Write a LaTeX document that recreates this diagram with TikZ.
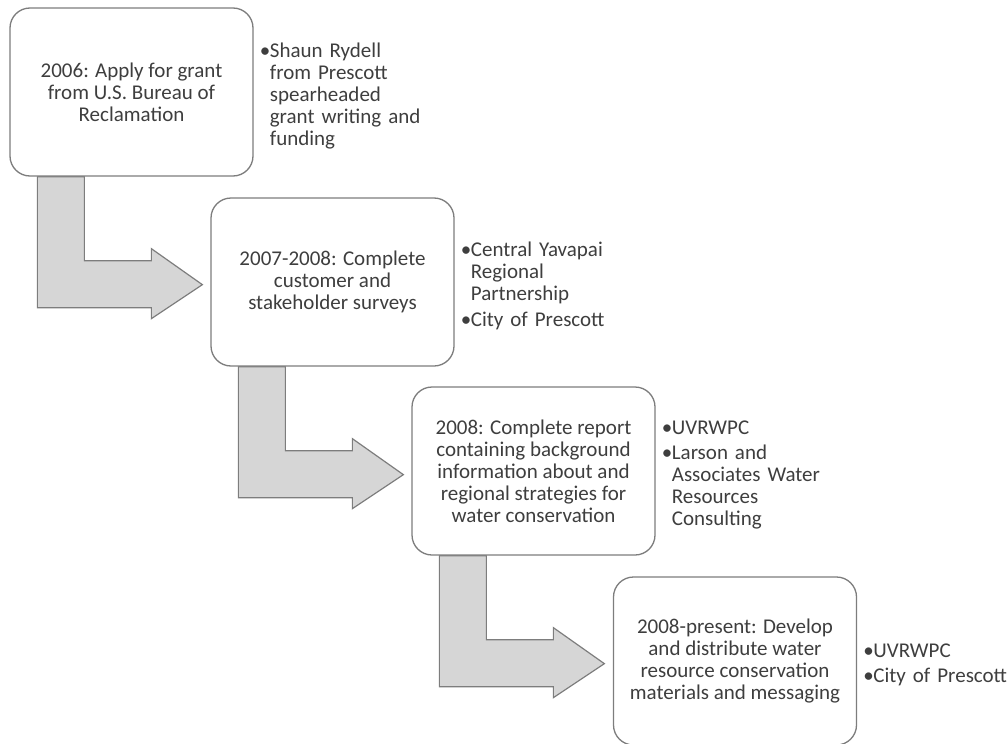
\documentclass[tikz,border=0pt]{standalone}
\usepackage{fontspec}
\setmainfont{Carlito}
\usetikzlibrary{calc,positioning,backgrounds}
\definecolor{boxline}{RGB}{125,125,125}
\definecolor{arrowfill}{RGB}{214,214,214}
\definecolor{txtgray}{RGB}{62,62,62}
\newcommand{\itm}[1]{\par\noindent\makebox[12pt][l]{\hspace{2pt}\textbullet}%
  \begin{tabular}[t]{@{}l@{}}#1\end{tabular}}
\tikzset{
  stage/.style={draw=boxline, line width=1.3pt, rounded corners=20pt, fill=white,
    minimum width=243pt, minimum height=168pt, align=center, text=txtgray,
    font=\fontsize{21}{22}\selectfont},
  who/.style={right=4pt of #1, text width=200pt, align=left, inner sep=0pt, text=txtgray,
    font=\fontsize{21}{22}\selectfont\setlength{\parskip}{3pt}},
  bendarrow/.style={draw=boxline, line width=1.2pt, fill=arrowfill, line join=miter},
}
\begin{document}
\begin{tikzpicture}[x=1pt,y=-1pt]
\useasboundingbox (0,0) rectangle (1007,744);
% stages
\node [stage] (b1) at (131.5,92) {2006: Apply for grant\\from U.S. Bureau of\\Reclamation};
\node [stage] (b2) at (332.5,282) {2007-2008: Complete\\customer and\\stakeholder surveys};
\node [stage] (b3) at (533.5,471) {2008: Complete report\\containing background\\information about and\\regional strategies for\\water conservation};
\node [stage] (b4) at (735,661) {2008-present: Develop\\and distribute water\\resource conservation\\materials and messaging};
% who did it
\node [who=b1] (w1) {\itm{Shaun Rydell\\from Prescott\\spearheaded\\grant writing and\\funding}};
\node [who=b2] (w2) {\itm{Central Yavapai\\Regional\\Partnership}\itm{City of Prescott}};
\node [who=b3] (w3) {\itm{UVRWPC}\itm{Larson and\\Associates Water\\Resources\\Consulting}};
\node [who=b4] (w4) {\itm{UVRWPC}\itm{City of Prescott}};
% bent arrows
\begin{pgfonlayer}{background}
\foreach \a in {b1,b2,b3} {
  \draw [bendarrow] ($(\a.south west)+(28,0)$) -- ++(0,131) -- ++(114,0) -- ++(0,11)
    -- ++(51,-34) -- ++(-51,-36) -- ++(0,12) -- ++(-67,0) -- ($(\a.south west)+(75,0)$) -- cycle;
}
\end{pgfonlayer}
\end{tikzpicture}
\end{document}
